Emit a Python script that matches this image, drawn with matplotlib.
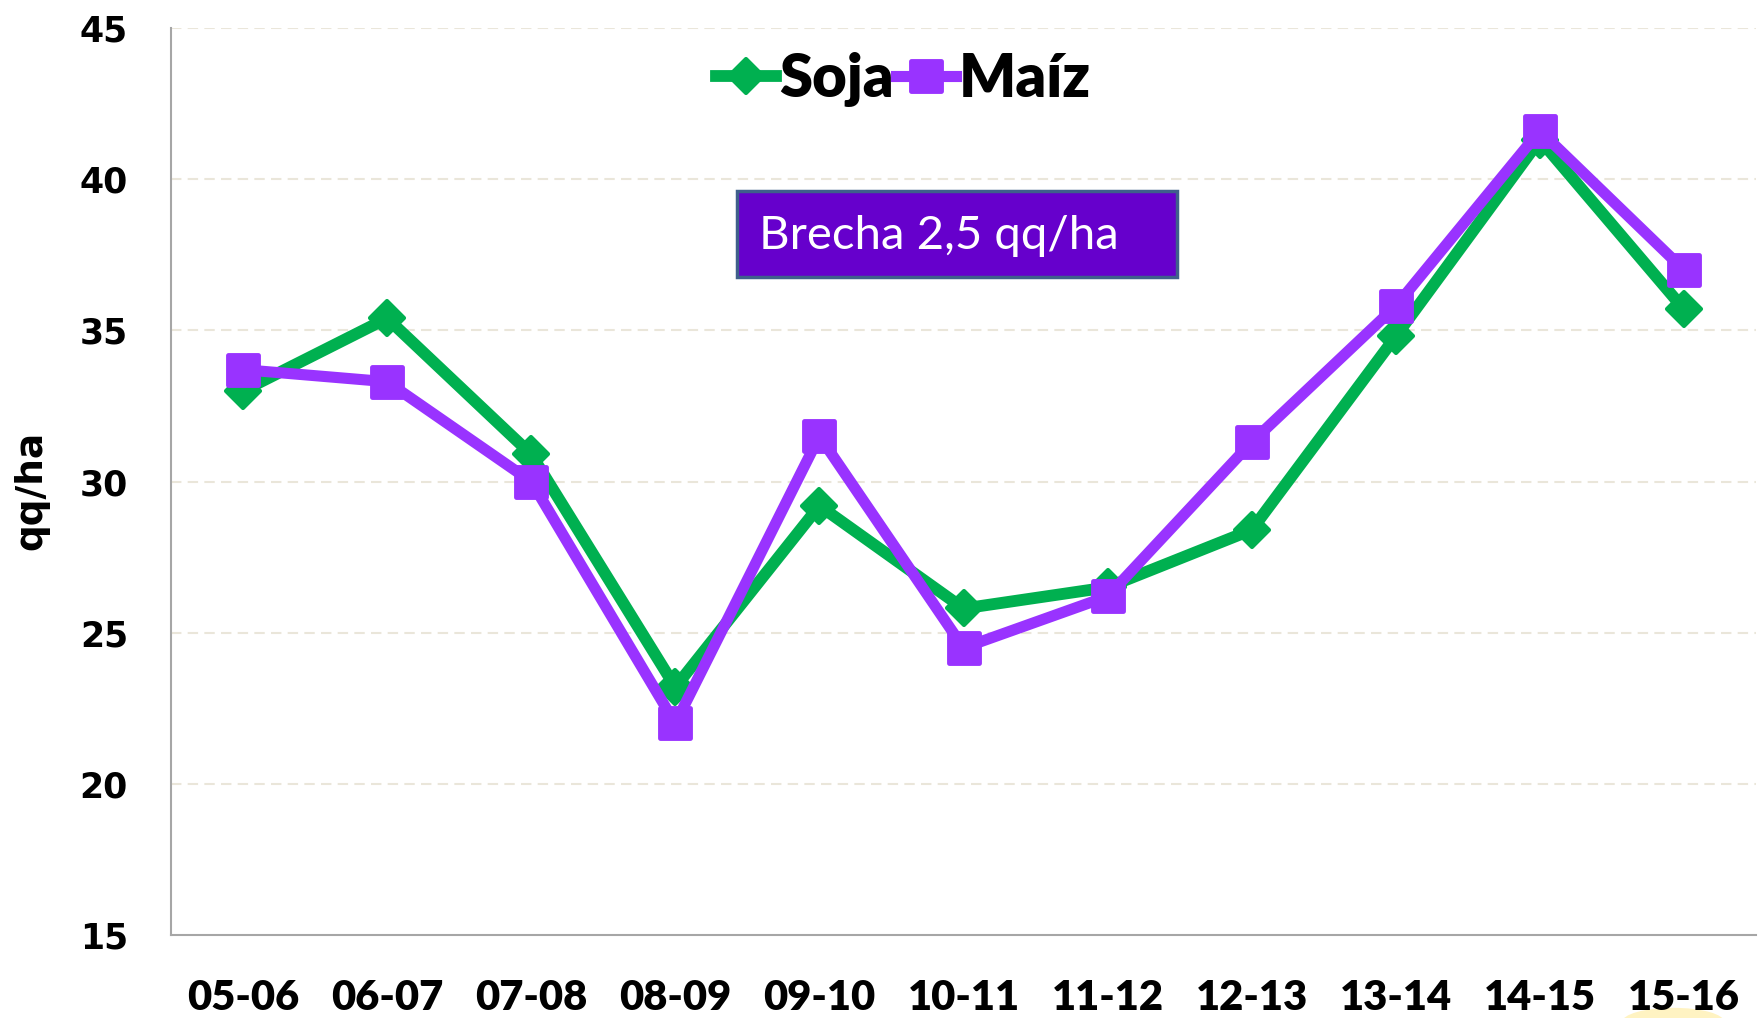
import matplotlib
matplotlib.use("Agg")
import matplotlib.pyplot as plt
from matplotlib.markers import MarkerStyle
from matplotlib.patches import Rectangle, Ellipse

# campaign labels and yields (qq/ha)
campanas = ["05-06", "06-07", "07-08", "08-09", "09-10", "10-11",
            "11-12", "12-13", "13-14", "14-15", "15-16"]
soja = [33.0, 35.4, 30.9, 23.2, 29.2, 25.8, 26.5, 28.4, 34.8, 41.3, 35.7]
maiz = [33.7, 33.3, 30.0, 22.0, 31.5, 24.5, 26.2, 31.3, 35.8, 41.6, 37.0]
y_ticks = [15, 20, 25, 30, 35, 40, 45]

VERDE = "#00B050"
VIOLETA = "#9933FF"

fig = plt.figure(figsize=(17.65, 10.18), dpi=100)
ax = fig.add_axes([0.0969, 0.0815, 0.898, 0.891])

x = list(range(len(campanas)))
ax.plot(x, soja, color=VERDE, lw=8.5, marker=MarkerStyle("D", joinstyle="round"),
        ms=17, mew=3, mec=VERDE, mfc=VERDE, solid_joinstyle="round",
        label="Soja", zorder=3)
ax.plot(x, maiz, color=VIOLETA, lw=8, marker=MarkerStyle("s", joinstyle="round"),
        ms=21, mew=3.5, mec=VIOLETA, mfc=VIOLETA, solid_joinstyle="round",
        label="Maíz", zorder=4)

ax.set_xlim(-0.5, len(campanas) - 0.5)
ax.set_ylim(15, 45)
ax.set_yticks(y_ticks)
ax.set_xticks(x)
ax.set_xticklabels(campanas, fontfamily="Lato", fontweight="heavy", fontsize=30)
ax.set_yticklabels([str(v) for v in y_ticks], fontfamily="DejaVu Sans",
                   fontweight="bold", fontsize=25)
ax.tick_params(axis="y", length=0, pad=31)
ax.tick_params(axis="x", length=0, pad=32)

# dashed light grid
for v in y_ticks[1:]:
    ax.axhline(v, color="#EAE6DA", lw=1.5, ls=(0, (5, 3)), zorder=1)

for s in ["top", "right"]:
    ax.spines[s].set_visible(False)
for s in ["left", "bottom"]:
    ax.spines[s].set_color("#A6A6A6")
    ax.spines[s].set_linewidth(1.5)

ax.set_ylabel("qq/ha", fontfamily="DejaVu Sans", fontweight="bold", fontsize=27)
ax.yaxis.set_label_coords(-0.077, 0.49)

leg = fig.legend(loc="center", bbox_to_anchor=(0.512, 0.922), ncol=2,
                 frameon=False, handlelength=1.0, handletextpad=0.05,
                 columnspacing=0.05, borderaxespad=0,
                 prop={"family": "Lato", "weight": "heavy", "size": 43})

# annotation box
ax.add_patch(Rectangle((0.357, 0.7255), 0.278, 0.0948, transform=ax.transAxes,
                       facecolor="#6600CC", edgecolor="#3F5F8C", lw=2.5, zorder=5))
ax.text(0.371, 0.771, "Brecha 2,5 qq/ha", transform=ax.transAxes,
        color="white", fontfamily="Lato", fontsize=34, va="center", ha="left",
        zorder=6)

# faint yellow highlight under last label
fig.patches.append(Ellipse((0.948, -0.004), 0.058, 0.028, transform=fig.transFigure,
                           facecolor="#FFEFA8", edgecolor="none", alpha=0.7,
                           zorder=-1))

fig.savefig("out.png", dpi=100, facecolor="white")
